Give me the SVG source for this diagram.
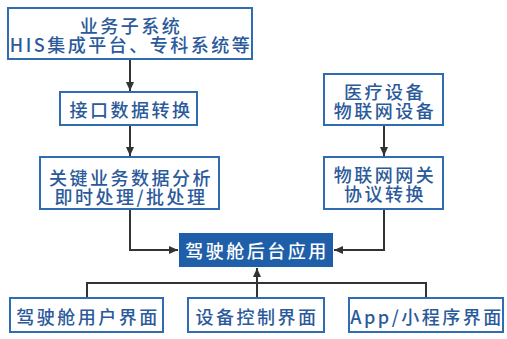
<svg xmlns="http://www.w3.org/2000/svg" width="507" height="339" viewBox="0 0 507 339">
<defs>
<style>
.box{fill:#ffffff;stroke:#2f6cb2;stroke-width:2}
.main{fill:#1f5ea8;stroke:none}
.t{font-family:"Noto Sans CJK SC","Noto Sans",sans-serif;font-size:18px;font-weight:500;fill:#2b5a9a;text-anchor:middle;dominant-baseline:central;letter-spacing:2.5px}
.w{fill:#ffffff}
.c{fill:none;stroke:#333333;stroke-width:2}
</style>
<marker id="ah" markerWidth="10" markerHeight="10" refX="9" refY="5" orient="auto" markerUnits="userSpaceOnUse">
<path d="M0,1 L9,5 L0,9 Z" fill="#333333"/>
</marker>
</defs>
<rect width="507" height="339" fill="#ffffff"/>
<g id="connectors">
<path class="c" d="M130,59 V91" marker-end="url(#ah)"/>
<path class="c" d="M130,125 V156" marker-end="url(#ah)"/>
<path class="c" d="M130,209 V250 H178" marker-end="url(#ah)"/>
<path class="c" d="M384,125 V156" marker-end="url(#ah)"/>
<path class="c" d="M384,209 V250 H334" marker-end="url(#ah)"/>
<path class="c" d="M87,298 V283 H426 V298"/>
<path class="c" d="M257,298 V268" marker-end="url(#ah)"/>
</g>
<g id="n1">
<rect class="box" x="8" y="8" width="244" height="51"/>
<text class="t" x="131" y="24.5">业务子系统</text>
<text class="t" x="131" y="43.5">HIS集成平台、专科系统等</text>
</g>
<g id="n2">
<rect class="box" x="60" y="92" width="137" height="33"/>
<text class="t" x="131" y="108.5">接口数据转换</text>
</g>
<g id="n3">
<rect class="box" x="40" y="157" width="179" height="52"/>
<text class="t" x="131" y="177">关键业务数据分析</text>
<text class="t" x="131" y="196">即时处理/批处理</text>
</g>
<g id="n4">
<rect class="box" x="324" y="74" width="119" height="51"/>
<text class="t" x="385" y="91">医疗设备</text>
<text class="t" x="385" y="110">物联网设备</text>
</g>
<g id="n5">
<rect class="box" x="324" y="157" width="119" height="52"/>
<text class="t" x="385" y="174">物联网网关</text>
<text class="t" x="385" y="193">协议转换</text>
</g>
<g id="n6">
<rect class="main" x="179" y="233" width="154" height="34"/>
<text class="t w" x="257" y="250">驾驶舱后台应用</text>
</g>
<g id="n7">
<rect class="box" x="10" y="298" width="153" height="34"/>
<text class="t" x="88" y="315.5">驾驶舱用户界面</text>
</g>
<g id="n8">
<rect class="box" x="188" y="298" width="136" height="34"/>
<text class="t" x="257" y="315.5">设备控制界面</text>
</g>
<g id="n9">
<rect class="box" x="349" y="298" width="154" height="34"/>
<text class="t" x="427" y="315.5">App/小程序界面</text>
</g>
</svg>
